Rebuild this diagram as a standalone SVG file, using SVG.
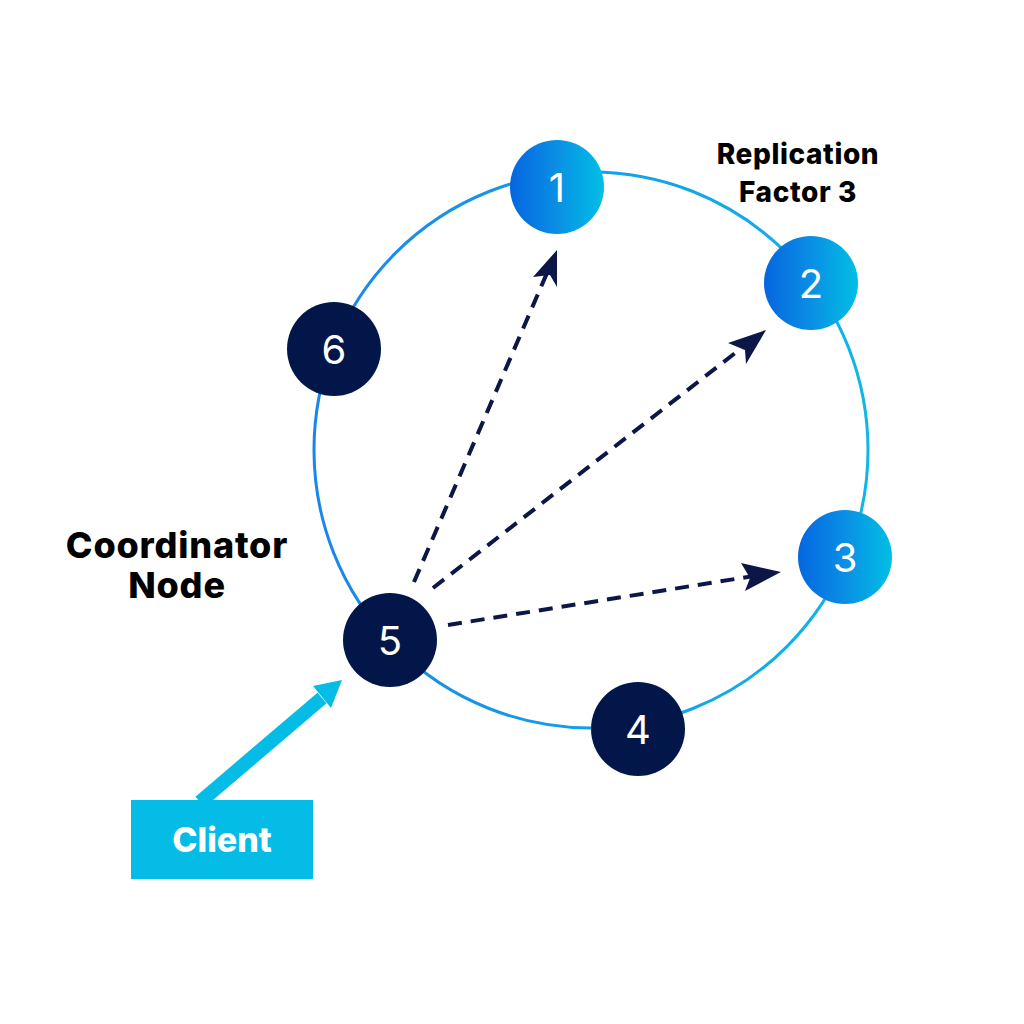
<svg xmlns="http://www.w3.org/2000/svg" width="1024" height="1024" viewBox="0 0 1024 1024">
<defs>
<linearGradient id="gBlue" x1="0" y1="0" x2="1" y2="0">
<stop offset="0" stop-color="#0566e0"/>
<stop offset="0.5" stop-color="#0a8fe4"/>
<stop offset="1" stop-color="#00bfe4"/>
</linearGradient>
<linearGradient id="gRing" x1="0" y1="0" x2="1" y2="0">
<stop offset="0" stop-color="#1a86ea"/>
<stop offset="1" stop-color="#10b6e6"/>
</linearGradient>
<style>
.dark{fill:#03164a}
.blue{fill:url(#gBlue)}
.num{font-family:Inter,"Noto Sans",sans-serif;font-size:40px;fill:#ffffff;text-anchor:middle}
.lbl{font-family:Inter,"Liberation Sans",sans-serif;font-weight:800;fill:#000000;text-anchor:middle}
.dash{stroke:#0c1748;stroke-width:4;stroke-dasharray:14 9;fill:none}
.head{fill:#0c1748}
</style>
</defs>
<rect width="1024" height="1024" fill="#ffffff"/>
<ellipse id="ring" cx="591" cy="450" rx="277" ry="278" fill="none" stroke="url(#gRing)" stroke-width="3"/>
<g id="connectors">
<line class="dash" x1="414" y1="582" x2="550" y2="266"/>
<path class="head" d="M533,277 L557,250 L557,287 L550,275 Z"/>
<line class="dash" x1="433" y1="588" x2="748" y2="343"/>
<path class="head" d="M728,343 L766,330 L746,364 L745,350 Z"/>
<line class="dash" x1="448" y1="625" x2="760" y2="575"/>
<path class="head" d="M741,563 L781,572 L745,591 L750,578 Z"/>
<line x1="200" y1="802" x2="322" y2="698" stroke="#04bce6" stroke-width="14"/>
<path d="M313,686 L342,680 L331,708 Z" fill="#04bce6"/>
</g>
<g id="node1"><circle class="blue" cx="557" cy="187" r="47"/><text class="num" x="557" y="202">1</text></g>
<g id="node2"><circle class="blue" cx="811" cy="283" r="47"/><text class="num" x="811" y="298">2</text></g>
<g id="node3"><circle class="blue" cx="845" cy="557" r="47"/><text class="num" x="845" y="572">3</text></g>
<g id="node4"><circle class="dark" cx="638" cy="729" r="47"/><text class="num" x="638" y="744">4</text></g>
<g id="node5"><circle class="dark" cx="390" cy="640" r="47"/><text class="num" x="390" y="655">5</text></g>
<g id="node6"><circle class="dark" cx="334" cy="349" r="47"/><text class="num" x="334" y="364">6</text></g>
<g id="client"><rect x="131" y="800" width="182" height="79" fill="#04bce6"/><text class="lbl" x="222" y="852" font-size="34" style="fill:#ffffff">Client</text></g>
<g id="coordinator-label"><text class="lbl" x="177" y="558" font-size="36" letter-spacing="0.8">Coordinator</text><text class="lbl" x="177" y="598" font-size="36" letter-spacing="0.8">Node</text></g>
<g id="rf-label"><text class="lbl" x="798" y="164" font-size="28" letter-spacing="0.6">Replication</text><text class="lbl" x="798" y="202" font-size="28" letter-spacing="0.6">Factor 3</text></g>
</svg>
